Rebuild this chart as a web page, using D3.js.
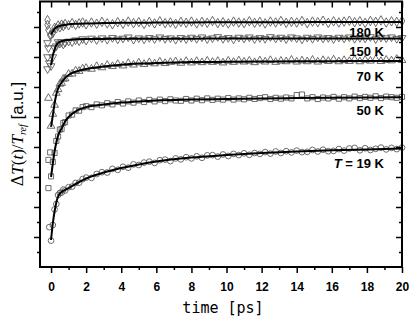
<!DOCTYPE html>
<html>
<head>
<meta charset="utf-8">
<script src="https://cdn.jsdelivr.net/npm/d3@7"></script>
<style>
  body { margin: 0; background: #fff; }
  svg { display: block; }
</style>
</head>
<body>
<div id="chart"></div>
<script>
// pump-probe delays (ps), shared by every temperature
const delays = [0, 0.1, 0.2, 0.3, 0.4, 0.5, 0.6, 0.7, 0.8, 1.0, 1.2, 1.4, 1.6, 1.8,
  2.0, 2.3, 2.6, 2.9, 3.2, 3.5, 3.8, 4.1, 4.4, 4.7,
  5.0, 5.3, 5.6, 5.9, 6.2, 6.5, 6.8, 7.1, 7.4, 7.7,
  8.0, 8.3, 8.6, 8.9, 9.2, 9.5, 9.8, 10.1, 10.4, 10.7,
  11.0, 11.3, 11.6, 11.9, 12.2, 12.5, 12.8, 13.1, 13.4, 13.7,
  14.0, 14.3, 14.6, 14.9, 15.2, 15.5, 15.8, 16.1, 16.4, 16.7,
  17.0, 17.3, 17.6, 17.9, 18.2, 18.5, 18.8, 19.1, 19.4, 19.7,
  20.0]

// measured signal, curves offset vertically (a.u.)
const sig19 = [0.88, 1.40, 1.92, 2.10, 2.40, 2.47, 2.48, 2.58, 2.55, 2.66, 2.68, 2.80, 2.81, 2.93,
  2.98, 2.97, 3.10, 3.16, 3.15, 3.27, 3.24, 3.34, 3.31, 3.42,
  3.40, 3.48, 3.51, 3.47, 3.56, 3.58, 3.53, 3.62, 3.59, 3.66,
  3.62, 3.69, 3.64, 3.72, 3.73, 3.68, 3.75, 3.70, 3.77, 3.73,
  3.79, 3.74, 3.80, 3.77, 3.83, 3.78, 3.85, 3.80, 3.86, 3.82,
  3.88, 3.83, 3.84, 3.90, 3.85, 3.91, 3.86, 3.87, 3.93, 3.88,
  3.95, 3.97, 3.89, 3.96, 3.90, 3.94, 3.98, 3.92, 3.97, 3.93,
  3.98]
const sig50 = [3.02, 3.50, 3.80, 4.20, 4.35, 4.58, 4.60, 4.80, 4.83, 5.05, 5.08, 5.22, 5.21, 5.33,
  5.36, 5.33, 5.42, 5.39, 5.46, 5.42, 5.50, 5.45, 5.52, 5.48,
  5.55, 5.50, 5.57, 5.52, 5.58, 5.53, 5.59, 5.55, 5.54, 5.60,
  5.55, 5.61, 5.56, 5.62, 5.57, 5.61, 5.58, 5.63, 5.58, 5.62,
  5.59, 5.64, 5.60, 5.63, 5.66, 5.60, 5.64, 5.61, 5.65, 5.62,
  5.73, 5.75, 5.62, 5.66, 5.60, 5.65, 5.62, 5.67, 5.61, 5.66,
  5.62, 5.68, 5.63, 5.67, 5.64, 5.69, 5.63, 5.68, 5.66, 5.64,
  5.67]
const sig70 = [4.70, 5.10, 5.40, 5.80, 5.92, 6.10, 6.13, 6.27, 6.28, 6.43, 6.44, 6.54, 6.53, 6.61,
  6.63, 6.60, 6.69, 6.65, 6.73, 6.69, 6.76, 6.71, 6.79, 6.74,
  6.81, 6.76, 6.82, 6.78, 6.84, 6.79, 6.83, 6.85, 6.80, 6.86,
  6.81, 6.86, 6.82, 6.87, 6.83, 6.86, 6.81, 6.87, 6.83, 6.88,
  6.84, 6.87, 6.82, 6.88, 6.84, 6.89, 6.83, 6.87, 6.85, 6.90,
  6.84, 6.88, 6.85, 6.90, 6.84, 6.89, 6.86, 6.91, 6.85, 6.89,
  6.86, 6.91, 6.85, 6.90, 6.87, 6.92, 6.86, 6.90, 6.88, 6.93,
  6.89]
const sig150 = [6.70, 7.00, 7.30, 7.36, 7.50, 7.45, 7.50, 7.42, 7.48, 7.52, 7.50, 7.56, 7.53, 7.60,
  7.55, 7.62, 7.57, 7.63, 7.58, 7.64, 7.59, 7.62, 7.66, 7.58,
  7.63, 7.59, 7.64, 7.60, 7.66, 7.61, 7.63, 7.58, 7.64, 7.60,
  7.65, 7.61, 7.66, 7.60, 7.63, 7.67, 7.61, 7.64, 7.59, 7.65,
  7.62, 7.66, 7.60, 7.64, 7.61, 7.67, 7.62, 7.65, 7.60, 7.66,
  7.63, 7.59, 7.65, 7.61, 7.66, 7.62, 7.64, 7.60, 7.65, 7.62,
  7.66, 7.61, 7.64, 7.62, 7.67, 7.60, 7.65, 7.63, 7.66, 7.61,
  7.64]
const sig180 = [7.74, 7.80, 7.97, 7.96, 8.05, 7.99, 8.08, 8.03, 8.10, 8.06, 8.13, 8.07, 8.12, 8.15,
  8.09, 8.15, 8.11, 8.17, 8.12, 8.09, 8.16, 8.11, 8.18, 8.13,
  8.16, 8.10, 8.17, 8.12, 8.19, 8.13, 8.15, 8.11, 8.17, 8.14,
  8.18, 8.12, 8.17, 8.14, 8.20, 8.13, 8.16, 8.12, 8.18, 8.15,
  8.13, 8.19, 8.14, 8.17, 8.12, 8.18, 8.15, 8.20, 8.14, 8.17,
  8.15, 8.20, 8.13, 8.18, 8.16, 8.21, 8.14, 8.19, 8.15, 8.18,
  8.21, 8.16, 8.19, 8.14, 8.20, 8.17, 8.22, 8.15, 8.19, 8.17,
  8.20]

// points recorded around / before time zero [t, value]
const pre19 = [[-0.1, 1.33]]
const pre50 = [[-0.15, 2.63], [-0.15, 3.57], [-0.05, 3.82]]
const pre70 = [[-0.15, 5.63]]
const pre150 = [[-0.2, 7.47], [-0.15, 7.30], [-0.2, 7.00], [-0.1, 6.80], [-0.2, 6.60]]
const pre180 = [[-0.2, 8.23], [-0.2, 8.07], [-0.15, 7.90], [-0.05, 7.73]]

// fitted curves
const fitT = [0, 0.1, 0.2, 0.3, 0.4, 0.6, 0.8, 1.0, 1.5, 2, 3, 4, 5, 6, 8, 10, 12, 14, 16, 18, 20]
const fit19 = [0.90, 1.45, 1.85, 2.15, 2.35, 2.50, 2.57, 2.63, 2.80, 2.95, 3.15, 3.30, 3.42, 3.52, 3.65, 3.73, 3.80, 3.85, 3.89, 3.92, 3.95]
const fit50 = [3.00, 3.45, 3.85, 4.15, 4.38, 4.62, 4.85, 5.00, 5.22, 5.33, 5.42, 5.48, 5.52, 5.55, 5.58, 5.60, 5.62, 5.63, 5.64, 5.65, 5.66]
const fit70 = [4.67, 5.05, 5.45, 5.75, 5.95, 6.15, 6.30, 6.40, 6.53, 6.60, 6.68, 6.74, 6.78, 6.80, 6.83, 6.84, 6.85, 6.86, 6.86, 6.87, 6.87]
const fit150 = [6.73, 7.05, 7.25, 7.40, 7.47, 7.53, 7.56, 7.57, 7.59, 7.60, 7.60, 7.61, 7.61, 7.61, 7.61, 7.62, 7.62, 7.62, 7.62, 7.62, 7.62]
const fit180 = [7.75, 7.85, 7.94, 7.99, 8.02, 8.05, 8.07, 8.09, 8.11, 8.12, 8.13, 8.14, 8.14, 8.15, 8.15, 8.16, 8.16, 8.16, 8.17, 8.17, 8.17]

const temps = ["19", "50", "70", "150", "180"]
const labelV = [3.3, 5.07, 6.2, 7.03, 7.67]   // label baselines, in a.u.

const xTicksMajor = [0, 2, 4, 6, 8, 10, 12, 14, 16, 18, 20]
const xTicksMinor = [1, 3, 5, 7, 9, 11, 13, 15, 17, 19]
const yTicksMajor = [1, 2, 3, 4, 5, 6, 7, 8]
const yTicksMinor = [0.5, 1.5, 2.5, 3.5, 4.5, 5.5, 6.5, 7.5, 8.5]

const width = 410
const height = 320
const margin = {top: 1.5, right: 8, bottom: 53, left: 40}

const series = [
  {sig: sig19, pre: pre19, fit: fit19, sym: d3.symbolCircle, rot: 0},
  {sig: sig50, pre: pre50, fit: fit50, sym: d3.symbolSquare, rot: 0},
  {sig: sig70, pre: pre70, fit: fit70, sym: d3.symbolTriangle, rot: 0},
  {sig: sig150, pre: pre150, fit: fit150, sym: d3.symbolTriangle, rot: 180},
  {sig: sig180, pre: pre180, fit: fit180, sym: d3.symbolDiamond, rot: 0}
]

const x = d3.scaleLinear().domain([-0.63, 20]).range([margin.left, width - margin.right])
const y = d3.scaleLinear().domain([0, 8.85]).range([height - margin.bottom, margin.top])

const svg = d3.select("#chart").append("svg")
  .attr("width", width)
  .attr("height", height)
  .attr("viewBox", [0, 0, width, height])

const plot = svg.append("g")

// markers
series.forEach(s => {
  const pts = s.pre.concat(delays.map((t, i) => [t, s.sig[i]]))
  plot.append("g")
    .selectAll("path")
    .data(pts)
    .join("path")
      .attr("transform", d => `translate(${x(d[0])},${y(d[1])}) rotate(${s.rot})`)
      .attr("d", d3.symbol().type(s.sym).size(26))
      .attr("fill", "none")
      .attr("stroke", "#5c5c5c")
      .attr("stroke-width", 0.9)
})

// fits
const line = d3.line()
  .x(d => x(d[0]))
  .y(d => y(d[1]))
  .curve(d3.curveMonotoneX)

series.forEach(s => {
  plot.append("path")
    .datum(fitT.map((t, i) => [t, s.fit[i]]))
    .attr("d", line)
    .attr("fill", "none")
    .attr("stroke", "#000")
    .attr("stroke-width", 2)
})

// curve labels
const lab = svg.append("g")
  .attr("font-family", "'Liberation Sans', Arial, sans-serif")
  .attr("font-weight", "bold")
  .attr("font-size", 13)
  .attr("text-anchor", "end")

temps.forEach((t, i) => {
  const txt = lab.append("text")
    .attr("x", 384)
    .attr("y", y(labelV[i]))
  if (i === 0) {
    txt.append("tspan").attr("font-style", "italic").text("T")
    txt.append("tspan").text(" = " + t + " K")
  } else {
    txt.text(t + " K")
  }
})

// axes
const tickFont = g => g
  .call(g => g.select(".domain").remove())
  .call(g => g.selectAll("line").attr("stroke", "#000").attr("stroke-width", 1.5))
  .call(g => g.selectAll("text")
    .attr("font-family", "'Liberation Sans', Arial, sans-serif")
    .attr("font-weight", "bold")
    .attr("font-size", 12)
    .attr("fill", "#000"))

const bottomY = height - margin.bottom
svg.append("g").attr("transform", `translate(0,${bottomY})`)
  .call(d3.axisBottom(x).tickValues(xTicksMajor).tickSize(6).tickPadding(9).tickFormat(d3.format("d")))
  .call(tickFont)
svg.append("g").attr("transform", `translate(0,${bottomY})`)
  .call(d3.axisBottom(x).tickValues(xTicksMinor).tickSize(3).tickFormat(""))
  .call(tickFont)
svg.append("g").attr("transform", `translate(0,${margin.top})`)
  .call(d3.axisTop(x).tickValues(xTicksMajor).tickSize(-6).tickFormat(""))
  .call(tickFont)
svg.append("g").attr("transform", `translate(0,${margin.top})`)
  .call(d3.axisTop(x).tickValues(xTicksMinor).tickSize(-4).tickFormat(""))
  .call(tickFont)

svg.append("g").attr("transform", `translate(${margin.left},0)`)
  .call(d3.axisLeft(y).tickValues(yTicksMajor).tickSize(6).tickFormat(""))
  .call(tickFont)
svg.append("g").attr("transform", `translate(${margin.left},0)`)
  .call(d3.axisLeft(y).tickValues(yTicksMinor).tickSize(3).tickFormat(""))
  .call(tickFont)
svg.append("g").attr("transform", `translate(${width - margin.right},0)`)
  .call(d3.axisRight(y).tickValues(yTicksMajor).tickSize(-6).tickFormat(""))
  .call(tickFont)
svg.append("g").attr("transform", `translate(${width - margin.right},0)`)
  .call(d3.axisRight(y).tickValues(yTicksMinor).tickSize(-3).tickFormat(""))
  .call(tickFont)

// frame
svg.append("rect")
  .attr("x", margin.left)
  .attr("y", margin.top)
  .attr("width", width - margin.left - margin.right)
  .attr("height", height - margin.top - margin.bottom)
  .attr("fill", "none")
  .attr("stroke", "#000")
  .attr("stroke-width", 2)

// axis titles
svg.append("text")
  .attr("x", 223)
  .attr("y", 313)
  .attr("text-anchor", "middle")
  .attr("font-family", "'DejaVu Sans Mono', monospace")
  .attr("font-size", 15)
  .text("time [ps]")

const yl = svg.append("text")
  .attr("transform", "translate(23,134) rotate(-90)")
  .attr("text-anchor", "middle")
  .attr("font-size", 17)
  .attr("font-family", "'Liberation Sans', Arial, sans-serif")
yl.append("tspan").attr("font-family", "'DejaVu Serif', serif").attr("font-size", 16).text("\u0394")
yl.append("tspan").attr("font-family", "'Liberation Serif', serif").attr("font-style", "italic").text("T")
yl.append("tspan").attr("font-family", "'Liberation Serif', serif").text("(")
yl.append("tspan").attr("font-family", "'Liberation Serif', serif").attr("font-style", "italic").text("t")
yl.append("tspan").attr("font-family", "'Liberation Serif', serif").text(")/")
yl.append("tspan").attr("font-family", "'Liberation Serif', serif").attr("font-style", "italic").text("T")
yl.append("tspan").attr("font-family", "'Liberation Serif', serif").attr("font-style", "italic")
  .attr("font-size", 10).attr("dy", 3).text("ref")
yl.append("tspan").attr("dy", -3).text(" [a.u.]")
</script>
</body>
</html>
